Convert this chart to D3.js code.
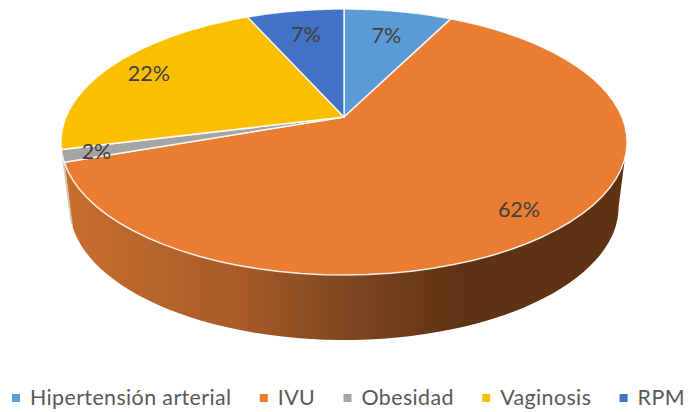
<!DOCTYPE html>
<html><head><meta charset="utf-8">
<script src="https://cdn.jsdelivr.net/npm/d3@7"></script>
<style>html,body{margin:0;padding:0;background:#fff}svg{display:block}text{font-family:Lato,"Open Sans",sans-serif}</style>
</head><body><svg id="c" width="690" height="412"></svg>
<script>
const categories = ["Hipertensión arterial","IVU","Obesidad","Vaginosis","RPM"];
const counts = [10,84,2,30,9];
const labels = ["7%","62%","2%","22%","7%"];
const colors = ["#5B9BD5","#EA7D32","#A5A5A5","#FCBF00","#4472C4"];

const svg = d3.select("#c");
// perspective model of the tilted disc
const cx = 344, cy = 117, A = 278, B = 128.3, K = 0.188, depth = 65, shrink = 0.97;
const labelR = [0.75,0.84,0.885,0.835,0.75];
const project = (t,r=1,s=1,dy=0)=>{
  const w = 1 + K*r*Math.cos(t);
  return [cx + s*A*r*Math.sin(t)/w, cy + dy - B*r*Math.cos(t)/w];
};
const pie = d3.pie().sort(null).value(d=>d)(counts);
const line = d3.line();
const steps = (a,b)=>d3.range(0,61).map(i=>a+(b-a)*i/60);

const defs = svg.append("defs");
const mkGrad = (id,stops)=>{
  const g = defs.append("linearGradient").attr("id",id).attr("gradientUnits","userSpaceOnUse")
    .attr("x1",61).attr("x2",627).attr("y1",0).attr("y2",0);
  stops.forEach(([o,c])=>g.append("stop").attr("offset",o).attr("stop-color",c));
};
mkGrad("side1",[[0,"#c96f2e"],[0.32,"#a65b27"],[0.51,"#7e4620"],[0.71,"#5e3213"],[1,"#5e3213"]]);

// visible side band lies between the two tangent angles
const tMin = Math.acos(-K), tMax = 2*Math.PI-tMin;
pie.forEach((p,i)=>{
  const a = Math.max(p.startAngle,tMin), b = Math.min(p.endAngle,tMax);
  if(b<=a) return;
  const top = steps(a,b).map(t=>project(t));
  const bot = steps(b,a).map(t=>project(t,1,shrink,depth));
  svg.append("path").attr("d",line(top.concat(bot))+"Z")
    .attr("fill", i===1 ? "url(#side1)" : d3.color(colors[i]).darker(0.5))
    .attr("stroke", i===1 ? "none" : "#e4e4e4").attr("stroke-width",0.5);
});
pie.forEach((p,i)=>{
  const rim = steps(p.startAngle,p.endAngle).map(t=>project(t));
  svg.append("path").attr("d",line([[cx,cy]].concat(rim))+"Z")
    .attr("fill",colors[i]).attr("stroke","#fff").attr("stroke-opacity",0.85).attr("stroke-width",1.5).attr("stroke-linejoin","round");
});
pie.forEach((p,i)=>{
  const [x,y] = project((p.startAngle+p.endAngle)/2,labelR[i]);
  svg.append("text").attr("x",x).attr("y",y).attr("text-anchor","middle").attr("dominant-baseline","central")
    .attr("font-size",21.5).attr("fill","#404040").text(labels[i]);
});
// legend
let lx = 12;
categories.forEach((c,i)=>{
  svg.append("rect").attr("x",lx).attr("y",394).attr("width",8).attr("height",8).attr("fill",colors[i]);
  const t = svg.append("text").attr("x",lx+18).attr("y",405).attr("font-size",21.4).attr("letter-spacing",0.4).attr("fill","#595959").text(c);
  lx += 18 + t.node().getComputedTextLength() + 28.3;
});
</script></body></html>
